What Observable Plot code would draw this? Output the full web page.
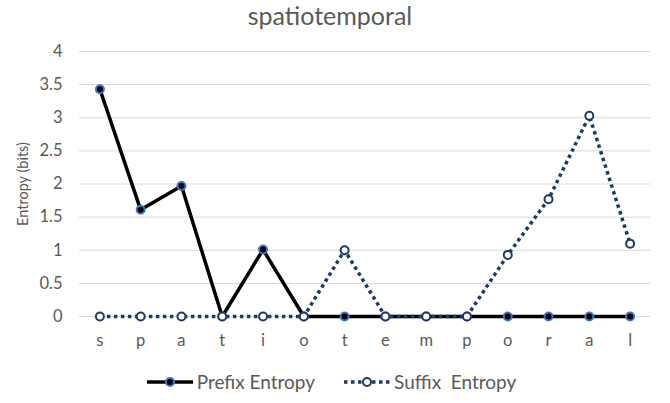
<!DOCTYPE html>
<html>
<head>
<meta charset="utf-8">
<script src="https://cdn.jsdelivr.net/npm/d3@7"></script>
<script src="https://cdn.jsdelivr.net/npm/@observablehq/plot@0.6"></script>
<style>
  html, body { margin: 0; padding: 0; background: #fff; }
  #wrap { position: relative; width: 670px; height: 403px; font-family: Lato, "Open Sans", sans-serif; color: #595959; }
  #title { position: absolute; left: 0; width: 660px; top: 0px; text-align: center; font-size: 25px; }
  #legend { position: absolute; left: 0; width: 662px; top: 370px; display: flex; justify-content: center; font-size: 19px; white-space: pre; }
  .item { display: flex; align-items: center; margin: 0 14px; }
  .item svg { margin-right: 3px; }
</style>
</head>
<body>
<div id="wrap">
  <div id="title">spatiotemporal</div>
  <div id="chart"></div>
  <div id="legend"></div>
</div>
<script>
const letters = ["s","p","a","t","i","o","t","e","m","p","o","r","a","l"];
const prefix = [3.43, 1.61, 1.97, 0, 1.01, 0, 0, 0, 0, 0, 0, 0, 0, 0];
const suffix = [0, 0, 0, 0, 0, 0, 1.0, 0, 0, 0, 0.93, 1.77, 3.03, 1.10];
const yTicks = [0, 0.5, 1, 1.5, 2, 2.5, 3, 3.5, 4];
const seriesNames = ["Prefix Entropy", "Suffix  Entropy"];

const idx = d3.range(letters.length);
const prefixData = idx.map(i => ({i, v: prefix[i]}));
const suffixData = idx.map(i => ({i, v: suffix[i]}));

const navy = "#203864";
const blue = "#4472C4";

const chart = Plot.plot({
  width: 670,
  height: 403,
  marginLeft: 79,
  marginRight: 20,
  marginTop: 51,
  marginBottom: 87,
  style: { fontFamily: "Lato, 'Open Sans', sans-serif", fontSize: "16.5px", color: "#595959", background: "transparent" },
  x: { type: "point", domain: idx, padding: 0.5, round: false },
  y: { domain: [0, 4] },
  marks: [
    Plot.gridY(yTicks, { stroke: "#d9d9d9", strokeOpacity: 1, strokeWidth: 1 }),
    Plot.axisY(yTicks, { tickSize: 0, tickPadding: 17, tickFormat: d => String(d), label: "Entropy (bits)", labelAnchor: "center", labelArrow: "none", labelOffset: 62, fontSize: 16.5 }),
    Plot.axisX(idx, { tickSize: 0, tickPadding: 18, tickFormat: i => letters[i], label: null, fontSize: 16.5 }),
    Plot.line(prefixData, { x: "i", y: "v", stroke: "#000", strokeWidth: 3.5 }),
    Plot.dot(prefixData, { x: "i", y: "v", r: 4, fill: "#000", stroke: blue, strokeWidth: 2 }),
    Plot.line(suffixData, { x: "i", y: "v", stroke: navy, strokeWidth: 3.5, strokeDasharray: "3.5,3.5", strokeLinecap: "butt", strokeLinejoin: "miter" }),
    Plot.dot(suffixData, { x: "i", y: "v", r: 4, fill: "#fff", stroke: navy, strokeWidth: 2 })
  ]
});
chart.querySelectorAll("text").forEach(t => {
  if (t.textContent === "Entropy (bits)") t.setAttribute("font-size", 14.5);
});
document.getElementById("chart").appendChild(chart);

const legend = document.getElementById("legend");
const styles = [
  { stroke: "#000", dash: null, fill: "#000", ring: blue },
  { stroke: navy, dash: "3.5,3.5", fill: "#fff", ring: navy }
];
seriesNames.forEach((name, k) => {
  const s = styles[k];
  const item = document.createElement("div");
  item.className = "item";
  item.innerHTML = `<svg width="48" height="12"><line x1="1" x2="47" y1="6" y2="6" stroke="${s.stroke}" stroke-width="3.5" ${s.dash ? `stroke-dasharray="${s.dash}"` : ""}/><circle cx="24" cy="6" r="4" fill="${s.fill}" stroke="${s.ring}" stroke-width="2"/></svg><span>${name}</span>`;
  legend.appendChild(item);
});
</script>
</body>
</html>
